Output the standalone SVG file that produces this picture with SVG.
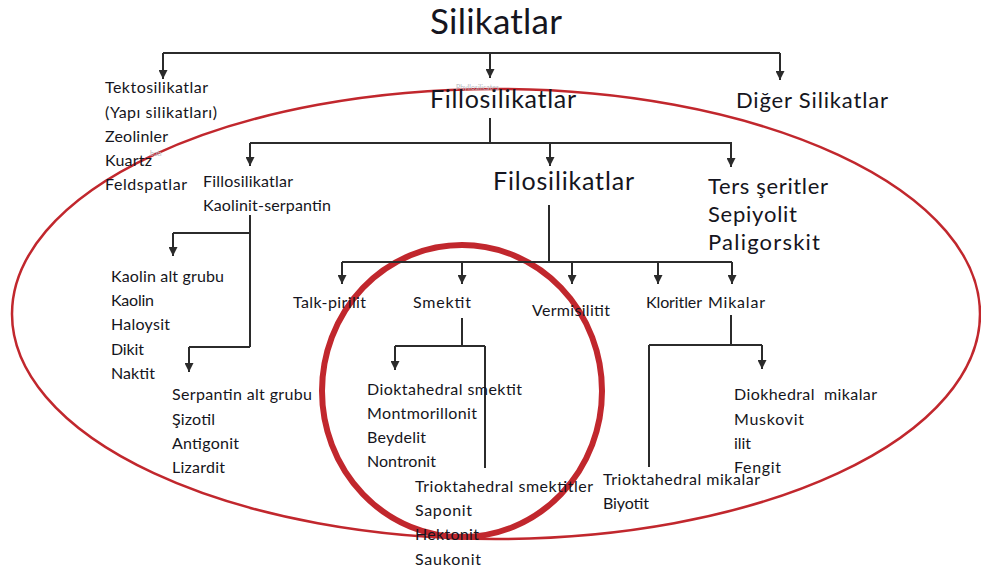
<svg xmlns="http://www.w3.org/2000/svg" width="981" height="576" viewBox="0 0 981 576">
<defs>
<marker id="ah" viewBox="0 0 10 10" refX="10" refY="5" markerWidth="10" markerHeight="9" markerUnits="userSpaceOnUse" orient="auto">
<path d="M0,0 L10,5 L0,10 z" fill="#2b2b2b"/>
</marker>
<style>
text{font-family:Lato,"Open Sans","Liberation Sans",sans-serif;fill:#151520}
.s{font-size:16px}
.m{font-size:22px}
.l{font-size:25px}
.t{font-size:35px}
.f{font-size:7px;fill:#b8b8c0}
.c path{fill:none;stroke:#2b2b2b;stroke-width:2}
.c path.a{marker-end:url(#ah)}
.red{fill:none;stroke:#c1272d}
</style>
</defs>
<rect width="981" height="576" fill="#fff"/>
<g id="outline">
<ellipse class="red" cx="496" cy="314" rx="484" ry="225" stroke-width="2.5"/>
<ellipse class="red" cx="462" cy="391" rx="140" ry="146" stroke-width="6"/>
</g>
<g id="connectors" class="c">
<path d="M163,53 H780"/>
<path class="a" d="M163,53 V79"/>
<path class="a" d="M490,53 V78"/>
<path class="a" d="M780,53 V80"/>
<path d="M490,118 V143"/>
<path d="M250,143 H732"/>
<path class="a" d="M250,143 V166"/>
<path class="a" d="M550,143 V166"/>
<path class="a" d="M731,143 V167"/>
<path d="M549,205 V262"/>
<path d="M342,262 H732"/>
<path class="a" d="M342,262 V284"/>
<path class="a" d="M462,262 V284"/>
<path class="a" d="M572,262 V284"/>
<path class="a" d="M658,262 V284"/>
<path class="a" d="M732,262 V284"/>
<path d="M250,215 V347"/>
<path d="M173,233 H250"/>
<path class="a" d="M173,233 V256"/>
<path d="M189,347 H250"/>
<path class="a" d="M189,347 V372"/>
<path d="M462,318 V346"/>
<path d="M395,346 H485"/>
<path class="a" d="M395,346 V370"/>
<path d="M485,346 V468"/>
<path d="M731,315 V345"/>
<path d="M649,345 H762"/>
<path class="a" d="M762,345 V369"/>
<path d="M649,345 V467"/>
</g>
<g id="silikatlar"><text class="t" x="430" y="34" textLength="132">Silikatlar</text></g>
<g id="tektosilikatlar">
<text class="s" x="105" y="93" textLength="103">Tektosilikatlar</text>
<text class="s" x="105" y="118" textLength="112">(Yapı silikatları)</text>
<text class="s" x="105" y="142" textLength="63">Zeolinler</text>
<text class="s" x="105" y="166" textLength="47">Kuartz</text>
<text class="f" x="150" y="156">bati</text>
<text class="s" x="105" y="190" textLength="82">Feldspatlar</text>
</g>
<g id="fillosilikatlar">
<text class="f" x="456" y="90">Phyllosilicates</text>
<text class="l" x="430" y="108" textLength="146">Fillosilikatlar</text>
</g>
<g id="diger"><text class="m" x="736" y="108" textLength="152">Diğer Silikatlar</text></g>
<g id="kaolinit-serpantin">
<text class="s" x="203" y="187" textLength="90">Fillosilikatlar</text>
<text class="s" x="203" y="211" textLength="128">Kaolinit-serpantin</text>
</g>
<g id="filosilikatlar"><text class="l" x="493" y="190" textLength="141">Filosilikatlar</text></g>
<g id="ters">
<text class="m" x="708" y="194" textLength="120">Ters şeritler</text>
<text class="m" x="708" y="222" textLength="89">Sepiyolit</text>
<text class="m" x="708" y="250" textLength="112">Paligorskit</text>
</g>
<g id="kaolin">
<text class="s" x="111" y="282" textLength="113">Kaolin alt grubu</text>
<text class="s" x="111" y="306" textLength="43">Kaolin</text>
<text class="s" x="111" y="330" textLength="59">Haloysit</text>
<text class="s" x="111" y="355" textLength="33">Dikit</text>
<text class="s" x="111" y="379" textLength="44">Naktit</text>
</g>
<g id="serpantin">
<text class="s" x="172" y="400" textLength="140">Serpantin alt grubu</text>
<text class="s" x="172" y="425" textLength="43">Şizotil</text>
<text class="s" x="172" y="449" textLength="67">Antigonit</text>
<text class="s" x="172" y="473" textLength="53">Lizardit</text>
</g>
<g id="talk"><text class="s" x="293" y="308" textLength="73">Talk-pirilit</text></g>
<g id="smektit"><text class="s" x="413" y="308" textLength="58">Smektit</text></g>
<g id="vermisilitit"><text class="s" x="532" y="316" textLength="78">Vermisilitit</text></g>
<g id="kloritler"><text class="s" x="646" y="308" textLength="56">Kloritler</text></g>
<g id="mikalar"><text class="s" x="708" y="308" textLength="57">Mikalar</text></g>
<g id="dioktahedral">
<text class="s" x="367" y="395" textLength="155">Dioktahedral smektit</text>
<text class="s" x="367" y="419" textLength="110">Montmorillonit</text>
<text class="s" x="367" y="443" textLength="59">Beydelit</text>
<text class="s" x="367" y="467" textLength="69">Nontronit</text>
</g>
<g id="trioktahedral-smektit">
<text class="s" x="415" y="492" textLength="178">Trioktahedral smektitler</text>
<text class="s" x="415" y="516" textLength="57">Saponit</text>
<text class="s" x="415" y="540" textLength="64">Hektonit</text>
<text class="s" x="415" y="565" textLength="66">Saukonit</text>
</g>
<g id="diokhedral-mikalar">
<text class="s" x="734" y="400" textLength="143" xml:space="preserve">Diokhedral  mikalar</text>
<text class="s" x="734" y="425" textLength="70">Muskovit</text>
<text class="s" x="734" y="449" textLength="17">ilit</text>
<text class="s" x="734" y="473" textLength="47">Fengit</text>
</g>
<g id="trioktahedral-mikalar">
<text class="s" x="603" y="485" textLength="157">Trioktahedral mikalar</text>
<text class="s" x="603" y="509" textLength="46">Biyotit</text>
</g>
</svg>
